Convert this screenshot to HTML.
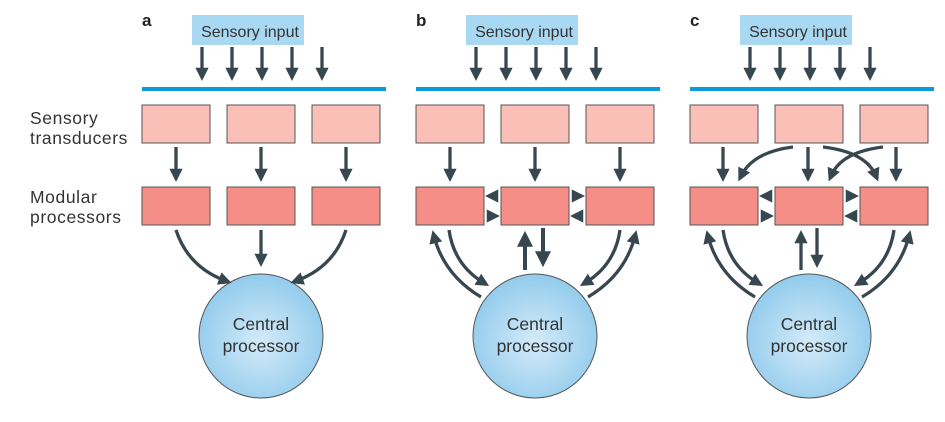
<!DOCTYPE html>
<html><head><style>
html,body{margin:0;padding:0;background:#fff;width:945px;height:422px;overflow:hidden}
svg{display:block}
text{font-family:"Liberation Sans",sans-serif}
</style></head><body>
<svg width="945" height="422" viewBox="0 0 945 422" xmlns="http://www.w3.org/2000/svg">
<defs>
<marker id="ah" markerWidth="4" markerHeight="4" refX="2.2" refY="2" orient="auto" markerUnits="strokeWidth">
<path d="M0,0 L4,2 L0,4 Z" fill="#37474f"/>
</marker>
<radialGradient id="cg" cx="50%" cy="55%" r="55%">
<stop offset="0" stop-color="#d4ebf9"/><stop offset="1" stop-color="#92cbec"/>
</radialGradient>
<g id="base">
<rect x="192" y="15" width="112" height="30" fill="#a9d8f2"/>
<text x="250" y="37" font-size="16" text-anchor="middle" fill="#333">Sensory input</text>
<g stroke="#37474f" stroke-width="3.3" marker-end="url(#ah)">
<line x1="202" y1="47" x2="202" y2="75"/><line x1="232" y1="47" x2="232" y2="75"/>
<line x1="262" y1="47" x2="262" y2="75"/><line x1="292" y1="47" x2="292" y2="75"/>
<line x1="322" y1="47" x2="322" y2="75"/>
</g>
<rect x="142" y="87" width="244" height="4" fill="#0a9bd8"/>
<g stroke="#555" stroke-width="1">
<rect x="142" y="105" width="68" height="38" fill="#fac0b8"/>
<rect x="227" y="105" width="68" height="38" fill="#fac0b8"/>
<rect x="312" y="105" width="68" height="38" fill="#fac0b8"/>
<rect x="142" y="187" width="68" height="38" fill="#f48e86"/>
<rect x="227" y="187" width="68" height="38" fill="#f48e86"/>
<rect x="312" y="187" width="68" height="38" fill="#f48e86"/>
</g>
<circle cx="261" cy="336" r="62" fill="url(#cg)" stroke="#555" stroke-width="1"/>
<text x="261" y="330" font-size="17.5" text-anchor="middle" fill="#333">Central</text>
<text x="261" y="352" font-size="17.5" text-anchor="middle" fill="#333">processor</text>
</g>
</defs>

<g font-size="17.5" fill="#333" letter-spacing="0.6">
<text x="30" y="124">Sensory</text>
<text x="30" y="144">transducers</text>
<text x="30" y="203">Modular</text>
<text x="30" y="223">processors</text>
</g>

<!-- panel a -->
<text x="142" y="26" font-size="17" font-weight="bold" fill="#222">a</text>
<use href="#base"/>
<g stroke="#37474f" stroke-width="3.3" fill="none" marker-end="url(#ah)">
<line x1="176" y1="147" x2="176" y2="176"/><line x1="261" y1="147" x2="261" y2="176"/><line x1="346" y1="147" x2="346" y2="176"/>
<path d="M176,230 Q188,267 226,281"/>
<line x1="261" y1="230" x2="261" y2="261"/>
<path d="M346,230 Q334,267 296,281"/>
</g>

<!-- panel b -->
<g transform="translate(274,0)">
<text x="142" y="26" font-size="17" font-weight="bold" fill="#222">b</text>
<use href="#base"/>
<g stroke="#37474f" stroke-width="3.3" fill="none" marker-end="url(#ah)">
<line x1="176" y1="147" x2="176" y2="176"/><line x1="261" y1="147" x2="261" y2="176"/><line x1="346" y1="147" x2="346" y2="176"/>
<line x1="224" y1="196" x2="217" y2="196"/><line x1="213" y1="216" x2="220" y2="216"/>
<line x1="298" y1="196" x2="305" y2="196"/><line x1="309" y1="216" x2="302" y2="216"/>
<path d="M175,230 Q180,265 210,283"/>
<path d="M207,297 Q170,275 160,236"/>
<path d="M346,230 Q341,265 311,283"/>
<path d="M314,297 Q351,275 361,236"/>
</g>
<g stroke="#37474f" stroke-width="4" fill="none" marker-end="url(#ah)">
<line x1="251" y1="270" x2="251" y2="238"/>
<line x1="269" y1="228" x2="269" y2="260"/>
</g>
</g>

<!-- panel c -->
<g transform="translate(548,0)">
<text x="142" y="26" font-size="17" font-weight="bold" fill="#222">c</text>
<use href="#base"/>
<g stroke="#37474f" stroke-width="3.3" fill="none" marker-end="url(#ah)">
<line x1="175" y1="147" x2="175" y2="176"/><line x1="260" y1="147" x2="260" y2="176"/><line x1="348" y1="147" x2="348" y2="176"/>
<path d="M245,147 Q205,152 193,176"/>
<path d="M275,147 Q318,152 328,176"/>
<path d="M335,147 Q293,152 283,176"/>
<line x1="224" y1="196" x2="217" y2="196"/><line x1="213" y1="216" x2="220" y2="216"/>
<line x1="298" y1="196" x2="305" y2="196"/><line x1="309" y1="216" x2="302" y2="216"/>
<path d="M175,230 Q180,265 210,283"/>
<path d="M207,297 Q170,275 160,236"/>
<line x1="253" y1="270" x2="253" y2="236"/>
<line x1="269" y1="228" x2="269" y2="262"/>
<path d="M346,230 Q341,265 311,283"/>
<path d="M314,297 Q351,275 361,236"/>
</g>
</g>
</svg>
</body></html>
